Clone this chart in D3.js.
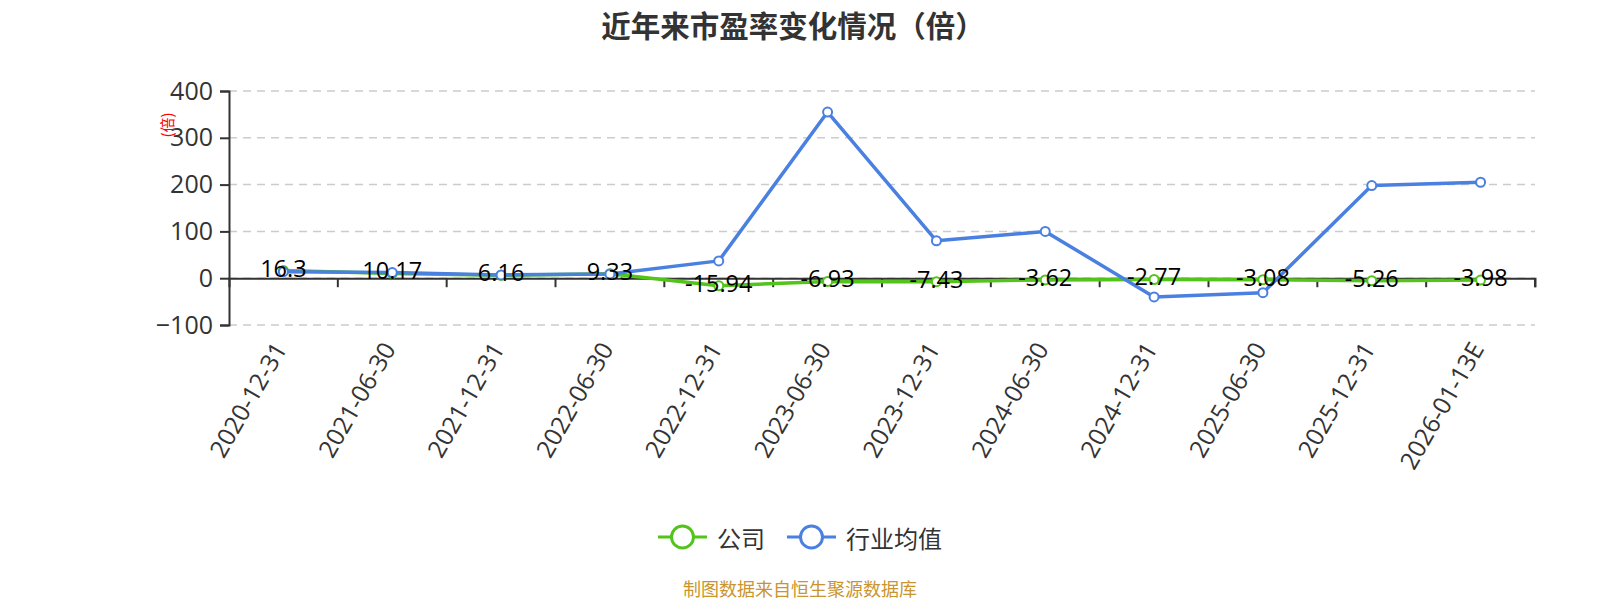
<!DOCTYPE html>
<html>
<head>
<meta charset="utf-8">
<script src="https://cdn.jsdelivr.net/npm/d3@7"></script>
<style>
  html, body { margin: 0; padding: 0; background: #fff; }
  svg { display: block; }
</style>
</head>
<body>
<svg id="chart"></svg>
<script>
var width = 1600, height = 600;
var categories = ['2020-12-31', '2021-06-30', '2021-12-31', '2022-06-30', '2022-12-31', '2023-06-30',
                  '2023-12-31', '2024-06-30', '2024-12-31', '2025-06-30', '2025-12-31', '2026-01-13E'];
var companyPE = [16.3, 10.17, 6.16, 9.33, -15.94, -6.93, -7.43, -3.62, -2.77, -3.08, -5.26, -3.98];
var industryPE = [14, 12, 7, 9, 37, 355, 80, 100, -40, -31, 198, 205];
var yTicks = [-100, 0, 100, 200, 300, 400];
var seriesNames = ['公司', '行业均值'];

var cjk = '"Noto Sans CJK SC", "Microsoft YaHei", sans-serif',
    num = '"Open Sans", "Noto Sans", sans-serif',
    green = '#52c41a',
    blue = '#4a80e0';

let svg = d3.select('#chart').attr('width', width).attr('height', height);

let x = d3.scaleBand().domain(categories).range([229, 1535]);
let y = d3.scaleLinear().domain([-100, 400]).range([325, 91]);
let cx = function(d, i) { return x(categories[i]) + x.bandwidth() / 2; };

// title
svg.append('text')
    .attr('x', 793).attr('y', 24)
    .attr('text-anchor', 'middle')
    .attr('dominant-baseline', 'central')
    .attr('font-family', cjk)
    .attr('font-size', '29.5px')
    .attr('font-weight', 700)
    .attr('fill', '#333')
    .text('近年来市盈率变化情况（倍）');

// grid lines
svg.append('g').selectAll('line')
    .data(yTicks)
    .enter()
    .append('line')
    .attr('x1', 229).attr('x2', 1535)
    .attr('y1', function(d) { return y(d); })
    .attr('y2', function(d) { return y(d); })
    .attr('stroke', '#cccccc')
    .attr('stroke-width', 1.5)
    .attr('stroke-dasharray', '8,6');

// y axis
let yAxis = svg.append('g')
    .attr('transform', 'translate(229,0)')
    .call(d3.axisLeft(y).tickValues(yTicks).tickSize(9).tickPadding(7));
yAxis.select('.domain').attr('stroke', '#333').attr('stroke-width', 2);
yAxis.selectAll('.tick line').attr('stroke', '#333').attr('stroke-width', 2);
yAxis.selectAll('.tick text')
    .attr('font-family', num)
    .attr('font-size', '25px')
    .attr('fill', '#333');

svg.append('text')
    .attr('transform', 'translate(166,125) rotate(-90)')
    .attr('text-anchor', 'middle')
    .attr('dominant-baseline', 'central')
    .attr('font-family', cjk)
    .attr('font-size', '15px')
    .attr('fill', 'red')
    .text('(倍)');

// x axis on zero
let xAxis = svg.append('g')
    .attr('transform', 'translate(0,' + y(0) + ')')
    .call(d3.axisBottom(x).tickSize(9).tickFormat(''));
xAxis.select('.domain').attr('stroke', '#333').attr('stroke-width', 2);
xAxis.selectAll('.tick line')
    .attr('stroke', '#333').attr('stroke-width', 2)
    .attr('transform', 'translate(' + (x.bandwidth() / 2) + ',0)');

svg.append('g').selectAll('text')
    .data(categories)
    .enter()
    .append('text')
    .attr('transform', function(d, i) {
        return 'translate(' + (cx(d, i) - 4) + ',344) rotate(-60)';
    })
    .attr('text-anchor', 'end')
    .attr('dominant-baseline', 'central')
    .attr('font-family', num)
    .attr('font-size', '24.5px')
    .attr('fill', '#333')
    .text(function(d) { return d; });

// lines
let line = d3.line()
    .x(function(d, i) { return cx(d, i); })
    .y(function(d) { return y(d); });

[[companyPE, green], [industryPE, blue]].forEach(function(s) {
    svg.append('path')
        .datum(s[0])
        .attr('d', line)
        .attr('fill', 'none')
        .attr('stroke', s[1])
        .attr('stroke-width', 3.5)
        .attr('stroke-linejoin', 'round');
    svg.append('g').selectAll('circle')
        .data(s[0])
        .enter()
        .append('circle')
        .attr('cx', cx)
        .attr('cy', function(d) { return y(d); })
        .attr('r', 4.5)
        .attr('fill', '#fff')
        .attr('stroke', s[1])
        .attr('stroke-width', 2);
});

// company value labels
svg.append('g').selectAll('text')
    .data(companyPE)
    .enter()
    .append('text')
    .attr('x', cx)
    .attr('y', function(d) { return y(d) - 3; })
    .attr('text-anchor', 'middle')
    .attr('dominant-baseline', 'central')
    .attr('font-family', num)
    .attr('font-size', '23.5px')
    .attr('fill', '#000')
    .text(function(d) { return d; });

// legend
let legendX = [658, 787],
    legendColors = [green, blue];
let legend = svg.append('g').selectAll('g')
    .data(seriesNames)
    .enter()
    .append('g')
    .attr('transform', function(d, i) { return 'translate(' + legendX[i] + ',537)'; });
legend.append('line')
    .attr('x1', 0).attr('x2', 49)
    .attr('stroke', function(d, i) { return legendColors[i]; })
    .attr('stroke-width', 3);
legend.append('circle')
    .attr('cx', 24.5).attr('r', 11)
    .attr('fill', '#fff')
    .attr('stroke', function(d, i) { return legendColors[i]; })
    .attr('stroke-width', 3);
legend.append('text')
    .attr('x', 59)
    .attr('dominant-baseline', 'central')
    .attr('font-family', cjk)
    .attr('font-size', '24px')
    .attr('fill', '#333')
    .text(function(d) { return d; });

// source
svg.append('text')
    .attr('x', 800).attr('y', 588)
    .attr('text-anchor', 'middle')
    .attr('dominant-baseline', 'central')
    .attr('font-family', cjk)
    .attr('font-size', '18px')
    .attr('fill', '#c9952f')
    .text('制图数据来自恒生聚源数据库');
</script>
</body>
</html>
